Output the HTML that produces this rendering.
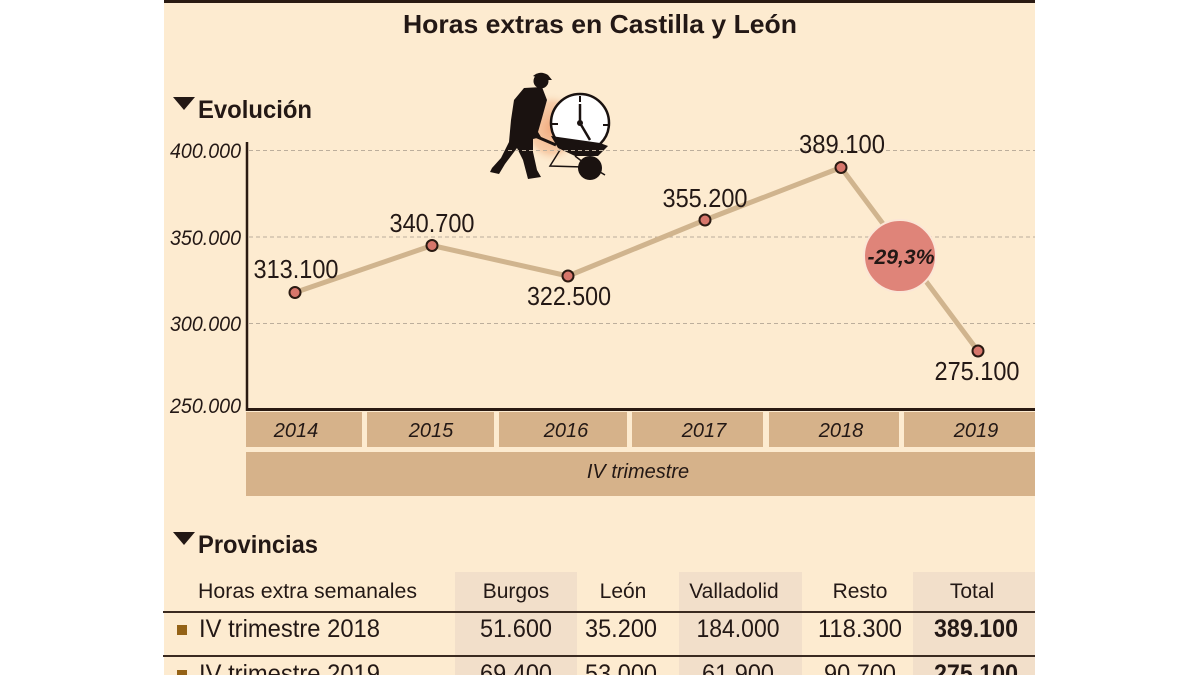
<!DOCTYPE html>
<html><head><meta charset="utf-8"><style>
html,body{margin:0;padding:0;background:#fff;}
svg{display:block;}
text{font-family:"Liberation Sans",Arial,sans-serif;fill:#231815;}
</style></head><body>
<svg width="1200" height="675" viewBox="0 0 1200 675" xmlns="http://www.w3.org/2000/svg">
<defs>
<radialGradient id="glow" cx="0.5" cy="0.5" r="0.5">
<stop offset="0" stop-color="#f0a679" stop-opacity="0.95"/>
<stop offset="0.7" stop-color="#f3b98f" stop-opacity="0.6"/>
<stop offset="1" stop-color="#fdebd0" stop-opacity="0"/>
</radialGradient>
</defs>
<rect x="0" y="0" width="1200" height="675" fill="#ffffff"/>
<rect x="164" y="0" width="871" height="675" fill="#fdebd0"/>
<rect x="164" y="0" width="871" height="3" fill="#2a1a12"/>

<text x="600" y="33" font-size="26" font-weight="bold" text-anchor="middle" textLength="394" lengthAdjust="spacingAndGlyphs">Horas extras en Castilla y León</text>

<polygon points="173,97 195,97 184,110" fill="#231815"/>
<text x="198" y="118" font-size="25" font-weight="bold" textLength="114" lengthAdjust="spacingAndGlyphs">Evolución</text>

<!-- icon -->
<ellipse cx="552" cy="128" rx="30" ry="36" fill="url(#glow)"/>
<circle cx="580" cy="123" r="29" fill="#ffffff" stroke="#1a1210" stroke-width="2.5"/>
<line x1="580" y1="96" x2="580" y2="102" stroke="#1a1210" stroke-width="2"/>
<line x1="603" y1="125" x2="609" y2="125" stroke="#1a1210" stroke-width="2"/>
<line x1="552" y1="124" x2="558" y2="124" stroke="#1a1210" stroke-width="2"/>
<line x1="580" y1="123" x2="580" y2="104" stroke="#1a1210" stroke-width="2.5"/>
<line x1="580" y1="123" x2="590" y2="140" stroke="#1a1210" stroke-width="2.5"/>
<circle cx="580" cy="123" r="3" fill="#1a1210"/>
<path d="M551,136 L600,143 L608,146 L598,156 L575,156 L558,148 Z" fill="#1a1210"/>
<line x1="535" y1="136" x2="556" y2="145" stroke="#1a1210" stroke-width="3"/>
<polyline points="560,150 550,166 584,167" fill="none" stroke="#1a1210" stroke-width="1.5"/>
<line x1="575" y1="156" x2="588" y2="166" stroke="#1a1210" stroke-width="1.5"/>
<circle cx="590" cy="168" r="12" fill="#1a1210"/>
<line x1="600" y1="172" x2="605" y2="175" stroke="#1a1210" stroke-width="1.5"/>
<circle cx="541" cy="81" r="7.5" fill="#1a1210"/>
<path d="M533,76 Q540,70 548,75 L552,80 L546,80 Z" fill="#1a1210"/>
<polygon points="524,88 542,87 547,100 542,118 538,132 541,137 533,139 533,152 537,170 541,177 528,179 523,160 517,148 505,164 499,174 490,172 492,168 501,158 509,142 511,120 514,100" fill="#1a1210"/>

<!-- gridlines -->
<g stroke="#bcae9c" stroke-width="1" stroke-dasharray="4,3">
<line x1="249" y1="150.5" x2="1035" y2="150.5"/>
<line x1="249" y1="237" x2="1035" y2="237"/>
<line x1="249" y1="323.5" x2="1035" y2="323.5"/>
</g>
<g font-size="21" font-style="italic" text-anchor="end">
<text x="241" y="158" textLength="71" lengthAdjust="spacingAndGlyphs">400.000</text>
<text x="241" y="245" textLength="71" lengthAdjust="spacingAndGlyphs">350.000</text>
<text x="241" y="331" textLength="71" lengthAdjust="spacingAndGlyphs">300.000</text>
<text x="241" y="413" textLength="71" lengthAdjust="spacingAndGlyphs">250.000</text>
</g>

<!-- axes -->
<line x1="247" y1="142" x2="247" y2="411" stroke="#2a1a12" stroke-width="2.5"/>
<line x1="246" y1="409.5" x2="1035" y2="409.5" stroke="#2a1a12" stroke-width="3"/>

<!-- year boxes -->
<g fill="#d6b28a">
<rect x="246" y="412" width="116" height="35"/>
<rect x="367" y="412" width="127" height="35"/>
<rect x="499" y="412" width="128" height="35"/>
<rect x="632" y="412" width="131" height="35"/>
<rect x="769" y="412" width="130" height="35"/>
<rect x="904" y="412" width="131" height="35"/>
<rect x="246" y="452" width="789" height="44"/>
</g>
<g font-size="20" font-style="italic" text-anchor="middle">
<text x="296" y="437">2014</text>
<text x="431" y="437">2015</text>
<text x="566" y="437">2016</text>
<text x="704" y="437">2017</text>
<text x="841" y="437">2018</text>
<text x="976" y="437">2019</text>
<text x="638" y="478">IV trimestre</text>
</g>

<!-- series -->
<polyline points="295,292.5 432,245.5 568,276 705,220 841,167.5 978,351" fill="none" stroke="#d0b48e" stroke-width="5" stroke-linejoin="round" stroke-linecap="round"/>
<circle cx="900" cy="256" r="36" fill="#df8479" stroke="#fbe6d6" stroke-width="2"/>
<text x="901" y="264" font-size="21" font-weight="bold" font-style="italic" text-anchor="middle" textLength="67" lengthAdjust="spacingAndGlyphs">-29,3%</text>
<g fill="#d7766b" stroke="#2a1a12" stroke-width="2">
<circle cx="295" cy="292.5" r="5.5"/>
<circle cx="432" cy="245.5" r="5.5"/>
<circle cx="568" cy="276" r="5.5"/>
<circle cx="705" cy="220" r="5.5"/>
<circle cx="841" cy="167.5" r="5.5"/>
<circle cx="978" cy="351" r="5.5"/>
</g>
<g font-size="26" text-anchor="middle">
<text x="296" y="278" textLength="85" lengthAdjust="spacingAndGlyphs">313.100</text>
<text x="432" y="232" textLength="85" lengthAdjust="spacingAndGlyphs">340.700</text>
<text x="569" y="305" textLength="84" lengthAdjust="spacingAndGlyphs">322.500</text>
<text x="705" y="207" textLength="85" lengthAdjust="spacingAndGlyphs">355.200</text>
<text x="842" y="153" textLength="86" lengthAdjust="spacingAndGlyphs">389.100</text>
<text x="977" y="380" textLength="85" lengthAdjust="spacingAndGlyphs">275.100</text>
</g>

<!-- table -->
<polygon points="173,532 195,532 184,545" fill="#231815"/>
<text x="198" y="553" font-size="25" font-weight="bold" textLength="120" lengthAdjust="spacingAndGlyphs">Provincias</text>
<g fill="#f2dfca">
<rect x="455" y="572" width="122" height="103"/>
<rect x="679" y="572" width="123" height="103"/>
<rect x="913" y="572" width="122" height="103"/>
</g>
<line x1="163" y1="612" x2="1035" y2="612" stroke="#3a2a20" stroke-width="2"/>
<line x1="163" y1="656" x2="1035" y2="656" stroke="#3a2a20" stroke-width="2"/>
<g font-size="21">
<text x="198" y="598" textLength="219" lengthAdjust="spacingAndGlyphs">Horas extra semanales</text>
<g text-anchor="middle">
<text x="516" y="598">Burgos</text>
<text x="623" y="598">León</text>
<text x="734" y="598">Valladolid</text>
<text x="860" y="598">Resto</text>
<text x="972" y="598">Total</text>
</g>
</g>
<rect x="177" y="625" width="10" height="10" fill="#946216"/>
<rect x="177" y="670" width="10" height="10" fill="#946216"/>
<g font-size="25">
<text x="199" y="637" textLength="181" lengthAdjust="spacingAndGlyphs">IV trimestre 2018</text>
<text x="199" y="682" textLength="181" lengthAdjust="spacingAndGlyphs">IV trimestre 2019</text>
<g text-anchor="middle">
<text x="516" y="637" textLength="72" lengthAdjust="spacingAndGlyphs">51.600</text>
<text x="621" y="637" textLength="72" lengthAdjust="spacingAndGlyphs">35.200</text>
<text x="738" y="637" textLength="83" lengthAdjust="spacingAndGlyphs">184.000</text>
<text x="860" y="637" textLength="84" lengthAdjust="spacingAndGlyphs">118.300</text>
<text x="976" y="637" font-weight="bold" textLength="84" lengthAdjust="spacingAndGlyphs">389.100</text>
<text x="516" y="682" textLength="72" lengthAdjust="spacingAndGlyphs">69.400</text>
<text x="621" y="682" textLength="72" lengthAdjust="spacingAndGlyphs">53.000</text>
<text x="738" y="682" textLength="72" lengthAdjust="spacingAndGlyphs">61.900</text>
<text x="860" y="682" textLength="72" lengthAdjust="spacingAndGlyphs">90.700</text>
<text x="976" y="682" font-weight="bold" textLength="84" lengthAdjust="spacingAndGlyphs">275.100</text>
</g>
</g>
</svg>
</body></html>
